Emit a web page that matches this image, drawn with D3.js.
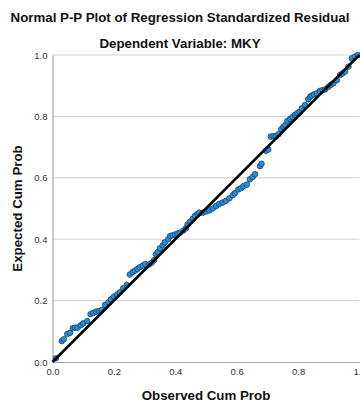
<!DOCTYPE html>
<html>
<head>
<meta charset="utf-8">
<script src="https://cdn.jsdelivr.net/npm/d3@7"></script>
<style>
  body { margin: 0; background: #fff; }
  svg { display: block; font-family: "Liberation Sans", Arial, sans-serif; }
</style>
</head>
<body>
<script>
// observed cum prob (x) and expected cum prob (y)
const observed = [0.011, 0.03, 0.037, 0.048, 0.057, 0.066, 0.073, 0.082, 0.092, 0.1,
  0.113, 0.124, 0.133, 0.142, 0.151, 0.16, 0.171, 0.182, 0.19, 0.2,
  0.211, 0.22, 0.23, 0.242, 0.252, 0.261, 0.269, 0.277, 0.285, 0.294,
  0.302, 0.315, 0.323, 0.331, 0.337, 0.343, 0.35, 0.359, 0.366, 0.377,
  0.383, 0.391, 0.399, 0.407, 0.415, 0.426, 0.435, 0.44, 0.448, 0.457,
  0.464, 0.472, 0.478, 0.489, 0.5, 0.511, 0.522, 0.533, 0.543, 0.554,
  0.565, 0.576, 0.587, 0.594, 0.605, 0.614, 0.622, 0.633, 0.643, 0.652,
  0.66, 0.676, 0.681, 0.695, 0.703, 0.711, 0.719, 0.728, 0.736, 0.745,
  0.752, 0.758, 0.765, 0.774, 0.782, 0.79, 0.797, 0.805, 0.812, 0.822,
  0.833, 0.839, 0.845, 0.852, 0.861, 0.871, 0.88, 0.888, 0.898, 0.907,
  0.915, 0.926, 0.937, 0.945, 0.953, 0.964, 0.975, 0.985, 0.995];
const expected = [0.012, 0.068, 0.074, 0.091, 0.095, 0.11, 0.112, 0.112, 0.12, 0.126,
  0.133, 0.156, 0.16, 0.164, 0.166, 0.169, 0.186, 0.194, 0.204, 0.213,
  0.22, 0.227, 0.24, 0.251, 0.285, 0.293, 0.298, 0.303, 0.309, 0.314,
  0.319, 0.318, 0.323, 0.332, 0.35, 0.358, 0.37, 0.38, 0.39, 0.4,
  0.41, 0.413, 0.415, 0.418, 0.421, 0.428, 0.436, 0.448, 0.457, 0.467,
  0.476, 0.482, 0.487, 0.486, 0.49, 0.494, 0.5, 0.508, 0.515, 0.519,
  0.525, 0.533, 0.543, 0.55, 0.562, 0.566, 0.573, 0.578, 0.595, 0.603,
  0.612, 0.638, 0.646, 0.688, 0.692, 0.734, 0.736, 0.735, 0.742, 0.758,
  0.766, 0.772, 0.785, 0.792, 0.798, 0.805, 0.81, 0.815, 0.826, 0.837,
  0.856, 0.864, 0.868, 0.872, 0.875, 0.883, 0.886, 0.888, 0.896, 0.903,
  0.908, 0.918, 0.935, 0.94, 0.946, 0.962, 0.989, 0.995, 1.0];
const tickValues = [0, 0.2, 0.4, 0.6, 0.8, 1.0];

const width = 360, height = 403;
const margin = { top: 55, right: 0.5, bottom: 41, left: 52.5 };

const svg = d3.select('body')
    .append('svg')
    .attr('width', width)
    .attr('height', height);

const x = d3.scaleLinear()
    .domain([0, 1])
    .range([margin.left, width - margin.right]);

const y = d3.scaleLinear()
    .domain([0, 1])
    .range([height - margin.bottom, margin.top]);

// horizontal gridlines
svg.append('g')
    .selectAll('line')
    .data(tickValues.filter(d => d > 0))
    .enter()
    .append('line')
    .attr('x1', x(0))
    .attr('x2', x(1))
    .attr('y1', d => y(d))
    .attr('y2', d => y(d))
    .attr('stroke', '#d2d2d2')
    .attr('stroke-width', 1);

const xAxis = d3.axisBottom(x)
    .tickValues(tickValues)
    .tickFormat(d3.format('.1f'))
    .tickSize(0)
    .tickPadding(6);

const yAxis = d3.axisLeft(y)
    .tickValues(tickValues)
    .tickFormat(d3.format('.1f'))
    .tickSize(0)
    .tickPadding(5);

const gx = svg.append('g')
    .attr('transform', `translate(0,${y(0)})`)
    .call(xAxis);

const gy = svg.append('g')
    .attr('transform', `translate(${x(0)},0)`)
    .call(yAxis);

[gx, gy].forEach(g => {
    g.select('.domain').attr('stroke', '#a8a8a8').attr('stroke-width', 1.2);
    g.selectAll('text')
        .attr('font-family', '"Liberation Sans", Arial, sans-serif')
        .attr('font-size', 9.5)
        .attr('fill', '#333');
});

// points
svg.append('g')
    .selectAll('circle')
    .data(observed.map((d, i) => ({ o: d, e: expected[i] })))
    .enter()
    .append('circle')
    .attr('cx', d => x(d.o))
    .attr('cy', d => y(d.e))
    .attr('r', 2.8)
    .attr('fill', '#2290e0')
    .attr('stroke', '#1c3550')
    .attr('stroke-width', 0.7);

// reference diagonal
svg.append('line')
    .attr('x1', x(0))
    .attr('y1', y(0))
    .attr('x2', x(1))
    .attr('y2', y(1))
    .attr('stroke', '#000')
    .attr('stroke-width', 2.6);

// titles
svg.append('text')
    .attr('x', width / 2)
    .attr('y', 22)
    .attr('text-anchor', 'middle')
    .attr('font-size', 13.3)
    .attr('font-weight', 'bold')
    .attr('fill', '#111')
    .text('Normal P-P Plot of Regression Standardized Residual');

svg.append('text')
    .attr('x', width / 2)
    .attr('y', 48)
    .attr('text-anchor', 'middle')
    .attr('font-size', 13.3)
    .attr('font-weight', 'bold')
    .attr('fill', '#111')
    .text('Dependent Variable: MKY');

svg.append('text')
    .attr('x', (x(0) + x(1)) / 2)
    .attr('y', 400)
    .attr('text-anchor', 'middle')
    .attr('font-size', 13.3)
    .attr('font-weight', 'bold')
    .attr('fill', '#111')
    .text('Observed Cum Prob');

svg.append('text')
    .attr('transform', `translate(22,${(y(0) + y(1)) / 2}) rotate(-90)`)
    .attr('text-anchor', 'middle')
    .attr('font-size', 13.3)
    .attr('font-weight', 'bold')
    .attr('fill', '#111')
    .text('Expected Cum Prob');
</script>
</body>
</html>
